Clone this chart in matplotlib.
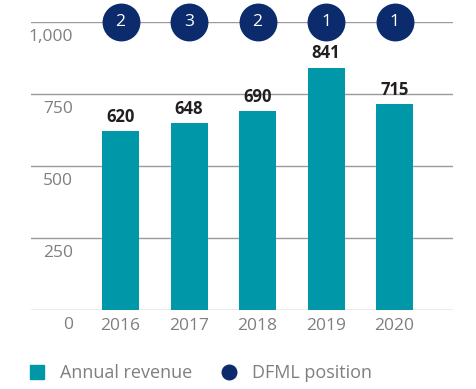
import matplotlib
matplotlib.use("Agg")
import matplotlib.pyplot as plt
from matplotlib.lines import Line2D

plt.rcParams['font.family'] = ['Open Sans', 'DejaVu Sans']

years = ['2016', '2017', '2018', '2019', '2020']
revenue = [620, 648, 690, 841, 715]
position = [2, 3, 2, 1, 1]
yticks = [0, 250, 500, 750, 1000]
ytick_labels = ['0', '250', '500', '750', '1,000']

teal = '#0097A9'
navy = '#0B2B6C'
grey = '#7F7F7F'

fig = plt.figure(figsize=(4.77, 3.89), dpi=100)
ax = fig.add_axes([31/477, 1 - 310/389, 422/477, 288/389])

x = list(range(len(years)))
ax.bar(x, revenue, width=0.54, color=teal, zorder=2)
ax.set_xlim(-1.307, 4.854)
ax.set_ylim(0, 1000)

for v, lab in zip(yticks, ytick_labels):
    ax.axhline(v, color='#9A9A9A', lw=1.0, zorder=1)
    ax.annotate(lab, xy=(0.0995, v),
                xycoords=ax.get_yaxis_transform(), xytext=(0, -11),
                textcoords='offset points', ha='right', va='center',
                fontsize=12.5, color=grey)

for xi, v in zip(x, revenue):
    ax.annotate(str(v), xy=(xi, v), xytext=(0, 4), textcoords='offset points',
                ha='center', va='bottom', fontsize=12, fontweight='bold',
                color='#231F20')

ax.scatter(x, [1000] * len(x), s=690, color=navy, zorder=3, clip_on=False)
for xi, p in zip(x, position):
    ax.text(xi, 1000, str(p), ha='center', va='center', fontsize=12.5,
            color='white', zorder=4)

ax.set_xticks(x)
ax.set_xticklabels(years, fontsize=12.5, color=grey)
ax.tick_params(axis='x', length=0, pad=6)
ax.set_yticks([])
for s in ax.spines.values():
    s.set_visible(False)

handles = [Line2D([], [], marker='s', color=teal, linestyle='none', markersize=10.5),
           Line2D([], [], marker='o', color=navy, linestyle='none', markersize=10.5)]
leg = fig.legend(handles, ['Annual revenue', 'DFML position'], ncol=2,
                 loc='center left', bbox_to_anchor=(12/477, 1 - 373/389),
                 frameon=False, fontsize=13, handlelength=1.0,
                 handletextpad=0.75, columnspacing=1.55)
for t in leg.get_texts():
    t.set_color(grey)

fig.savefig('out.png', dpi=100)
